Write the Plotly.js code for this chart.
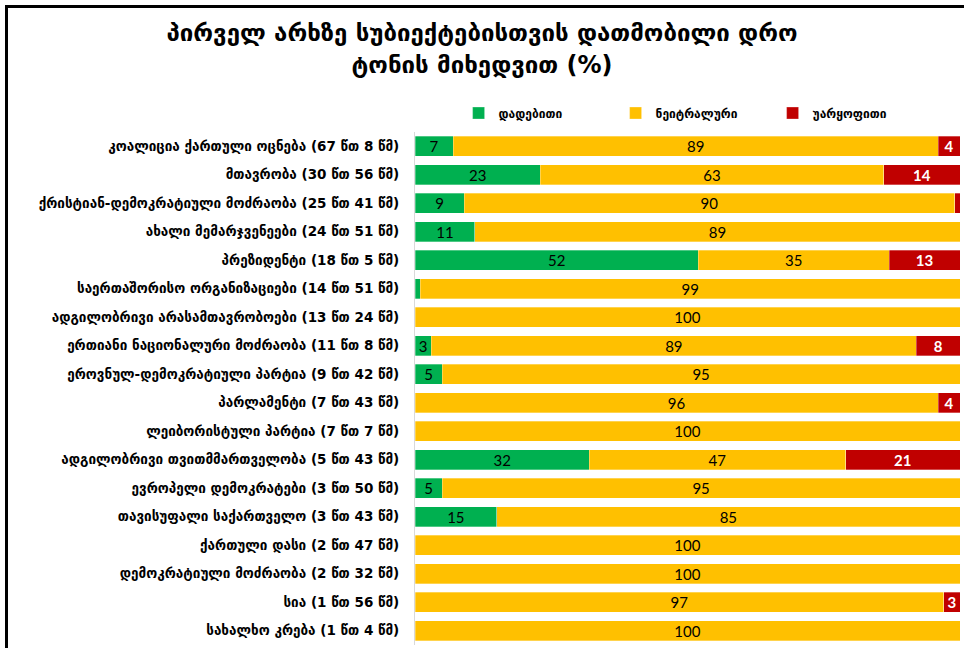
<!DOCTYPE html>
<html>
<head>
<meta charset="utf-8">
<script src="https://cdn.plot.ly/plotly-3.0.1.min.js"></script>
<style>
  html, body { margin: 0; padding: 0; background: #fff; }
  #wrap { position: relative; width: 964px; height: 648px; }
  #chart { position: absolute; left: 0; top: 0; width: 964px; height: 648px; }
  #frame { position: absolute; left: 5px; top: 5px; width: 959px; height: 643px;
           border-left: 3px solid #000; border-top: 3px solid #000; pointer-events: none; box-sizing: border-box; }
</style>
</head>
<body>
<div id="wrap"><div id="chart"></div><div id="frame"></div></div>
<script>
const categories = [
  "კოალიცია ქართული ოცნება (67 წთ 8 წმ)",
  "მთავრობა (30 წთ 56 წმ)",
  "ქრისტიან-დემოკრატიული მოძრაობა (25 წთ 41 წმ)",
  "ახალი მემარჯვენეები (24 წთ 51 წმ)",
  "პრეზიდენტი (18 წთ 5 წმ)",
  "საერთაშორისო ორგანიზაციები (14 წთ 51 წმ)",
  "ადგილობრივი არასამთავრობოები (13 წთ 24 წმ)",
  "ერთიანი ნაციონალური მოძრაობა (11 წთ 8 წმ)",
  "ეროვნულ-დემოკრატიული პარტია (9 წთ 42 წმ)",
  "პარლამენტი (7 წთ 43 წმ)",
  "ლეიბორისტული პარტია (7 წთ 7 წმ)",
  "ადგილობრივი თვითმმართველობა (5 წთ 43 წმ)",
  "ევროპელი დემოკრატები (3 წთ 50 წმ)",
  "თავისუფალი საქართველო (3 წთ 43 წმ)",
  "ქართული დასი (2 წთ 47 წმ)",
  "დემოკრატიული მოძრაობა (2 წთ 32 წმ)",
  "სია (1 წთ 56 წმ)",
  "სახალხო კრება (1 წთ 4 წმ)"
];
const positive = [7, 23, 9, 11, 52, 1, 0, 3, 5, 0, 0, 32, 5, 15, 0, 0, 0, 0];
const neutral  = [89, 63, 90, 89, 35, 99, 100, 89, 95, 96, 100, 47, 95, 85, 100, 100, 97, 100];
const negative = [4, 14, 1, 0, 13, 0, 0, 8, 0, 4, 0, 21, 0, 0, 0, 0, 3, 0];
const seriesNames = ["დადებითი", "ნეიტრალური", "უარყოფითი"];
const seriesColors = ["#00B050", "#FFC000", "#C00000"];

const labelOf = v => (v >= 2 ? String(v) : "");
const geo = "DejaVu Sans, sans-serif";
const numFont = "Lato, 'Open Sans', sans-serif";

function makeTrace(vals, i, textColor, weight) {
  return {
    type: "bar",
    orientation: "h",
    name: seriesNames[i],
    y: categories,
    x: vals,
    marker: { color: seriesColors[i], line: { color: "rgba(255,255,255,0.6)", width: 0.5 } },
    text: vals.map(labelOf),
    textposition: "inside",
    insidetextanchor: "middle",
    constraintext: "none",
    textangle: 0,
    textfont: { family: numFont, size: 15, color: textColor, weight: weight },
    hoverinfo: "x+y+name"
  };
}

const data = [
  makeTrace(positive, 0, "#000000", 400),
  makeTrace(neutral, 1, "#000000", 400),
  makeTrace(negative, 2, "#FFFFFF", 700)
];

const layout = {
  width: 964,
  height: 648,
  barmode: "stack",
  bargap: 0.3,
  paper_bgcolor: "#ffffff",
  plot_bgcolor: "#ffffff",
  margin: { l: 415, r: 4, t: 132, b: 3 },
  title: {
    text: "<b>პირველ არხზე სუბიექტებისთვის დათმობილი დრო<br>ტონის მიხედვით (%)</b>",
    font: { family: geo, size: 24, color: "#000" },
    x: 0.5, xanchor: "center", xref: "container",
    y: 0.936, yanchor: "middle", yref: "container"
  },
  showlegend: true,
  legend: {
    orientation: "h",
    x: 0.08, xanchor: "left",
    y: 1.037, yanchor: "middle",
    entrywidth: 112, entrywidthmode: "pixels",
    traceorder: "normal",
    font: { family: geo, size: 12, color: "#000", weight: 700 },
    bgcolor: "rgba(0,0,0,0)"
  },
  xaxis: {
    range: [0, 100],
    showgrid: false,
    zeroline: false,
    showticklabels: false,
    showline: false,
    fixedrange: true
  },
  yaxis: {
    autorange: "reversed",
    showgrid: false,
    zeroline: false,
    showline: true,
    linecolor: "#d9d9d9",
    linewidth: 1,
    ticks: "",
    ticklabelstandoff: 12,
    tickfont: { family: geo, size: 13.5, color: "#000", weight: 700 },
    fixedrange: true
  }
};

Plotly.newPlot("chart", data, layout, { displayModeBar: false, responsive: false });
</script>
</body>
</html>
